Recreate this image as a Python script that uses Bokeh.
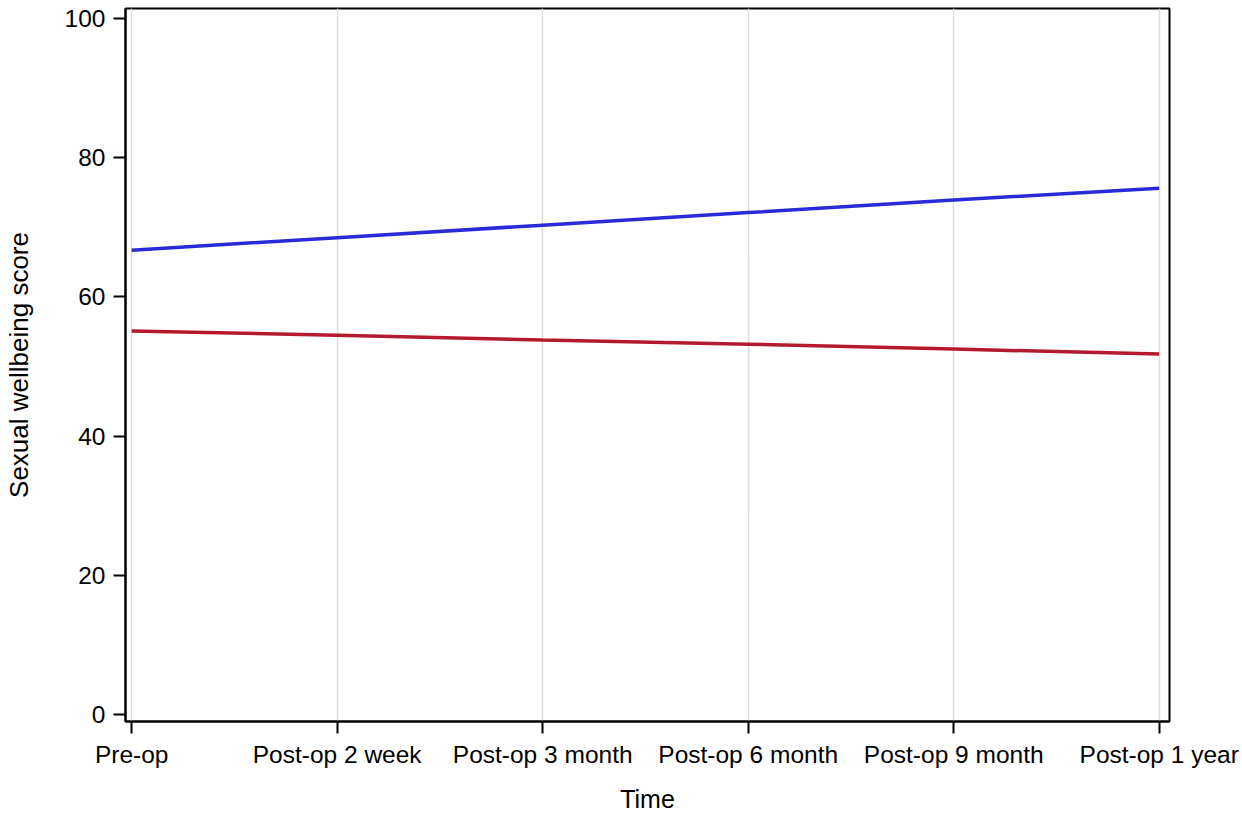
from bokeh.plotting import figure
from bokeh.models import Range1d, FixedTicker
from bokeh.embed import file_html
from bokeh.resources import INLINE

# Time points and model-estimated scores per group
time_labels = ["Pre-op", "Post-op 2 week", "Post-op 3 month",
               "Post-op 6 month", "Post-op 9 month", "Post-op 1 year"]
time_index = [0, 1, 2, 3, 4, 5]
score_blue = [66.7, 68.5, 70.3, 72.1, 73.9, 75.6]
score_red = [55.1, 54.5, 53.8, 53.2, 52.5, 51.8]
y_ticks = [0, 20, 40, 60, 80, 100]

FONT = "Liberation Sans"

p = figure(width=1242, height=818, output_backend="svg", toolbar_location=None,
           x_range=Range1d(-0.03, 5.05), y_range=Range1d(-0.96, 101.4),
           min_border_left=124, min_border_right=73, min_border_top=8,
           min_border_bottom=97)

p.line(time_index, score_blue, line_color="#2a2ad8", line_width=3.5)
p.line(time_index, score_red, line_color="#b41a2e", line_width=3.5)

p.outline_line_color = "black"
p.outline_line_width = 2
p.background_fill_color = "white"
p.border_fill_color = "white"

p.ygrid.grid_line_color = None
p.xgrid.grid_line_color = "#dcdcdc"
p.xgrid.grid_line_width = 1.5

p.xaxis.ticker = FixedTicker(ticks=time_index)
p.xaxis.major_label_overrides = {i: lab for i, lab in zip(time_index, time_labels)}
p.yaxis.ticker = FixedTicker(ticks=y_ticks)

for ax in (p.xaxis[0], p.yaxis[0]):
    ax.axis_line_color = "black"
    ax.axis_line_width = 2
    ax.major_tick_line_color = "black"
    ax.major_tick_line_width = 2
    ax.major_tick_out = 12
    ax.major_tick_in = 0
    ax.minor_tick_line_color = None
    ax.major_label_text_font = FONT
    ax.major_label_text_font_size = "24.5px"
    ax.major_label_text_color = "black"
    ax.axis_label_text_font = FONT
    ax.axis_label_text_font_style = "normal"
    ax.axis_label_text_color = "black"

p.xaxis.axis_label = "Time"
p.yaxis.axis_label = "Sexual wellbeing score"
p.xaxis.axis_label_text_font_size = "25px"
p.yaxis.axis_label_text_font_size = "26px"
p.xaxis.major_label_standoff = 7
p.xaxis.axis_label_standoff = 14
p.yaxis.major_label_standoff = 8
p.yaxis.axis_label_standoff = 28

open("out.html", "w").write(file_html(p, INLINE))
